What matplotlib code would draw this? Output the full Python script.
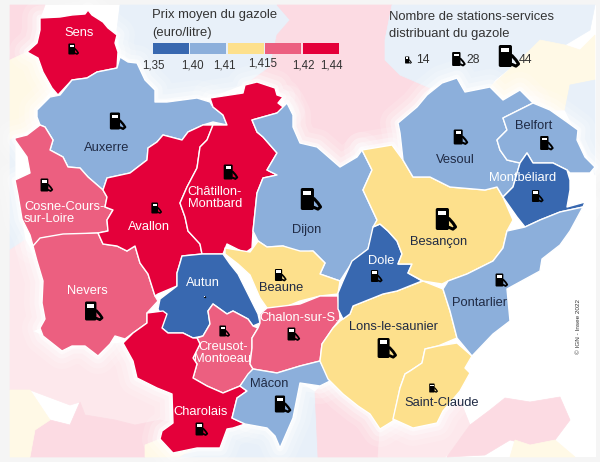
import matplotlib

matplotlib.use("Agg")
import matplotlib.pyplot as plt
from matplotlib.patches import FancyBboxPatch, Polygon, Rectangle

plt.rcParams["font.family"] = ["Liberation Sans", "DejaVu Sans"]

# price classes, low to high
BIN_COLORS = ["#3868b0", "#8cafdb", "#fde08c", "#ec5f80", "#e4003a"]
BIN_EDGES = ["1,35", "1,40", "1,41", "1,415", "1,42", "1,44"]
STATION_SIZES = [14, 28, 44]

# zone outlines in pixels
sens = [(40, 18), (60, 17), (72, 15), (85, 14), (88, 10), (92, 15), (103, 22), (108, 28), (117, 35), (115, 43),
        (118, 52), (117, 68), (97, 72), (87, 78), (72, 80), (58, 95), (52, 88), (43, 72), (38, 58), (27, 52),
        (37, 43), (40, 30)]
auxerre = [(37, 110), (50, 97), (60, 95), (72, 80), (87, 78), (97, 72), (117, 68), (120, 57), (128, 62), (137, 63),
           (145, 80), (155, 90), (155, 102), (167, 102), (197, 98), (210, 102), (213, 107), (223, 115), (227, 125),
           (213, 122), (203, 125), (188, 132), (182, 140), (163, 135), (157, 142), (148, 148), (147, 160), (130, 173),
           (107, 178), (103, 190), (88, 177), (80, 168), (68, 167), (63, 157), (50, 150), (53, 140), (45, 127),
           (40, 125), (37, 117)]
cosne = [(15, 138), (27, 135), (40, 125), (45, 127), (53, 140), (50, 150), (63, 157), (68, 167), (80, 168), (88, 177),
         (103, 190), (107, 197), (105, 207), (113, 210), (107, 220), (108, 231), (98, 233), (63, 235), (42, 238),
         (33, 246), (30, 235), (22, 219), (18, 195), (15, 180), (30, 173), (27, 157), (15, 140)]
nevers = [(33, 246), (40, 238), (63, 234), (98, 233), (103, 244), (117, 246), (127, 251), (135, 246), (140, 263),
          (148, 274), (155, 296), (158, 301), (147, 313), (147, 323), (133, 333), (125, 339), (115, 336), (110, 344),
          (98, 356), (85, 346), (72, 346), (62, 351), (43, 336), (40, 328), (45, 319), (42, 303), (43, 281), (37, 261)]
avallon = [(107, 178), (130, 173), (147, 160), (148, 148), (157, 142), (163, 135), (182, 140), (188, 132), (203, 125),
           (213, 125), (207, 140), (200, 147), (197, 168), (187, 187), (180, 203), (185, 217), (188, 231), (200, 244),
           (202, 254), (182, 256), (180, 263), (177, 273), (177, 286), (158, 294), (155, 296), (148, 274), (140, 263),
           (135, 246), (127, 251), (117, 246), (103, 244), (98, 233), (108, 231), (107, 220), (113, 210), (105, 207),
           (107, 197), (103, 190)]
chatillon = [(210, 98), (243, 93), (245, 85), (257, 82), (275, 88), (277, 95), (283, 97), (278, 103), (287, 110),
             (277, 113), (252, 120), (257, 132), (263, 137), (277, 153), (267, 170), (277, 175), (263, 178),
             (257, 193), (253, 231), (252, 248), (245, 253), (227, 244), (223, 254), (213, 254), (202, 254),
             (200, 244), (188, 231), (185, 217), (180, 203), (187, 187), (197, 168), (200, 147), (207, 140),
             (213, 125), (227, 125), (223, 115), (213, 107)]
dijon = [(287, 103), (293, 115), (293, 127), (300, 143), (317, 147), (340, 167), (357, 157), (362, 150), (372, 170),
         (363, 190), (377, 220), (373, 231), (368, 249), (353, 261), (340, 281), (320, 274), (325, 263), (313, 251),
         (300, 253), (283, 246), (267, 247), (258, 241), (253, 231), (257, 193), (263, 178), (277, 175), (267, 170),
         (277, 153), (263, 137), (257, 132), (252, 120), (277, 113)]
beaune = [(225, 248), (250, 252), (258, 241), (267, 247), (283, 246), (300, 251), (313, 251), (325, 263), (320, 274),
          (340, 281), (338, 294), (320, 296), (300, 301), (283, 308), (267, 308), (260, 298), (250, 275), (238, 264),
          (225, 254)]
autun = [(182, 256), (202, 254), (213, 254), (223, 254), (230, 264), (238, 274), (250, 298), (258, 314), (260, 323),
         (253, 326), (248, 319), (233, 311), (227, 314), (213, 304), (208, 311), (210, 324), (203, 336), (193, 338),
         (183, 333), (168, 333), (162, 328), (163, 319), (158, 309), (160, 299), (177, 286), (177, 273), (180, 263)]
creusot = [(213, 304), (227, 314), (233, 311), (248, 319), (253, 326), (258, 328), (252, 338), (252, 348), (250, 364),
           (253, 369), (245, 379), (240, 386), (223, 393), (207, 386), (193, 378), (197, 364), (193, 358), (200, 344),
           (197, 338), (203, 336), (210, 324), (208, 311)]
chalon = [(260, 314), (267, 308), (300, 304), (320, 296), (338, 296), (340, 319), (333, 328), (322, 344), (320, 361),
          (300, 366), (277, 373), (253, 369), (250, 364), (252, 348), (252, 338), (258, 328), (260, 323)]
charolais = [(147, 313), (163, 311), (167, 314), (162, 328), (168, 333), (183, 333), (193, 338), (197, 338), (200, 344),
             (193, 358), (197, 364), (193, 378), (207, 386), (223, 393), (240, 386), (247, 391), (237, 398), (232, 418),
             (245, 424), (233, 428), (227, 429), (220, 448), (197, 448), (173, 453), (160, 439), (162, 431), (173, 423),
             (172, 394), (157, 388), (137, 378), (133, 361), (123, 343), (133, 333), (147, 323)]
macon = [(253, 369), (277, 373), (300, 366), (320, 361), (330, 381), (320, 386), (300, 383), (293, 418), (280, 448),
         (275, 436), (267, 428), (245, 424), (232, 418), (237, 398), (247, 391), (240, 386), (248, 374)]
lons = [(340, 321), (350, 314), (353, 306), (383, 294), (397, 291), (423, 281), (443, 289), (450, 311), (457, 338),
        (438, 346), (425, 349), (422, 363), (410, 371), (405, 374), (400, 388), (393, 421), (380, 429), (370, 414),
        (358, 406), (343, 394), (328, 379), (320, 361), (322, 344), (333, 328)]
saint_claude = [(438, 346), (457, 343), (472, 356), (465, 368), (470, 373), (460, 391), (443, 411), (437, 423),
                (413, 428), (393, 419), (400, 388), (405, 374), (410, 371), (422, 363), (425, 349)]
dole = [(373, 227), (380, 224), (388, 231), (397, 241), (402, 254), (398, 264), (412, 264), (408, 273), (422, 281),
        (397, 291), (383, 294), (353, 306), (350, 314), (343, 319), (338, 309), (338, 293), (343, 281), (352, 261),
        (368, 249)]
besancon = [(362, 150), (392, 145), (403, 160), (413, 177), (430, 177), (450, 187), (485, 190), (497, 187), (503, 197),
            (513, 220), (507, 231), (503, 248), (493, 261), (467, 274), (448, 281), (442, 284), (423, 281), (408, 273),
            (412, 264), (398, 264), (402, 254), (397, 241), (388, 231), (380, 224), (373, 227), (377, 220), (363, 190),
            (372, 170)]
vesoul = [(398, 123), (417, 107), (427, 95), (442, 83), (457, 78), (465, 92), (490, 87), (503, 100), (520, 90),
          (533, 103), (513, 113), (503, 118), (507, 130), (497, 140), (500, 150), (507, 160), (520, 163), (513, 187),
          (503, 197), (497, 187), (485, 190), (450, 187), (430, 177), (413, 177), (403, 160), (400, 133)]
belfort = [(533, 103), (550, 110), (567, 122), (578, 130), (577, 140), (585, 157), (595, 167), (590, 173), (570, 173),
           (567, 170), (553, 163), (533, 163), (527, 153), (520, 163), (507, 160), (500, 150), (497, 140), (507, 130),
           (503, 118), (513, 113)]
montbeliard = [(527, 153), (533, 163), (553, 163), (567, 170), (570, 180), (570, 190), (567, 207), (585, 202),
               (583, 207), (560, 212), (540, 220), (525, 227), (517, 217), (503, 197), (513, 187), (520, 163)]
pontarlier = [(507, 231), (525, 227), (540, 220), (560, 212), (583, 207), (570, 231), (560, 245), (542, 259),
              (540, 271), (507, 289), (510, 321), (493, 334), (472, 356), (457, 338), (450, 311), (443, 289),
              (448, 281), (467, 274), (493, 261), (503, 248)]

zone_shapes = [sens, auxerre, cosne, nevers, avallon, chatillon, dijon, beaune, autun, creusot, chalon, charolais,
               macon, lons, saint_claude, dole, besancon, vesoul, belfort, montbeliard, pontarlier]
zone_bins = [4, 1, 3, 3, 4, 4, 1, 2, 0, 3, 3, 4, 1, 2, 2, 0, 2, 1, 1, 0, 1]
zone_stations = [22, 34, 26, 38, 22, 30, 44, 24, 4, 22, 26, 26, 34, 40, 18, 24, 44, 30, 28, 24, 26]
pump_x = [73, 117, 46, 93, 156, 230, 310, 280, 205, 224, 293, 201, 282, 386, 433, 376, 445, 460, 546, 537, 501]
pump_y = [49, 121, 185, 311, 208, 172, 199, 275, 297, 331, 334, 429, 404, 348, 388, 276, 219, 137, 143, 196, 280]

labels = ["Sens", "Auxerre", "Cosne-Cours-\nsur-Loire", "Nevers", "Avallon", "Châtillon-\nMontbard", "Dijon", "Beaune",
          "Autun", "Creusot-\nMontoeau", "Chalon-sur-S.", "Charolais", "Mâcon", "Lons-le-saunier", "Saint-Claude",
          "Dole", "Besançon", "Vesoul", "Belfort", "Montbéliard", "Pontarlier"]
label_x = [79, 107, 62, 87, 149, 215, 307, 281, 203, 223, 299, 201, 269, 393, 442, 381, 439, 455, 534, 523, 480]
label_y = [33, 148, 213, 291, 227, 198, 230, 288, 283, 353, 318, 412, 384, 327, 403, 261, 242, 160, 126, 178, 303]

# pale neighbouring zones behind the map
PINK = "#fcdbe3"
PALE_PINK = "#fde8ec"
PALE_BLUE = "#e8f0f9"
PALE_YELLOW = "#fff9e6"
backdrop = [
    (PINK, [(10, 5), (45, 5), (40, 18), (37, 43), (27, 52), (10, 60)]),
    (PALE_YELLOW, [(10, 60), (27, 52), (38, 58), (43, 72), (52, 88), (37, 110), (37, 117), (40, 125), (15, 138),
                   (10, 140)]),
    (PALE_BLUE, [(10, 140), (15, 138), (15, 180), (25, 240), (15, 300), (10, 310)]),
    (PALE_PINK, [(10, 250), (25, 240), (37, 261), (43, 281), (42, 303), (45, 319), (40, 328), (10, 340)]),
    (PALE_BLUE, [(120, 5), (280, 5), (290, 20), (277, 35), (270, 67), (247, 83), (210, 97), (155, 100), (145, 80),
                 (130, 60), (120, 55), (117, 30)]),
    (PINK, [(277, 5), (392, 5), (385, 40), (390, 60), (400, 75), (420, 80), (430, 88), (417, 107), (398, 123),
            (400, 133), (403, 160), (392, 145), (362, 150), (340, 167), (300, 143), (290, 115), (283, 97), (277, 88),
            (245, 85), (270, 67), (277, 35), (290, 20)]),
    (PALE_BLUE, [(392, 5), (595, 5), (590, 30), (565, 45), (540, 40), (520, 60), (495, 80), (490, 87), (465, 92),
                 (457, 78), (430, 88), (400, 75), (385, 60), (385, 40)]),
    (PALE_YELLOW, [(540, 40), (565, 45), (580, 50), (595, 35), (595, 80), (570, 85), (565, 110), (550, 110), (533, 103),
                   (520, 90), (503, 100), (490, 87), (520, 60)]),
    (PALE_BLUE, [(570, 85), (595, 80), (595, 175), (585, 150), (565, 110)]),
    (PALE_PINK, [(10, 340), (30, 330), (43, 336), (62, 351), (85, 346), (98, 356), (110, 344), (123, 343), (133, 361),
                 (137, 378), (157, 388), (172, 394), (173, 423), (160, 420), (135, 425), (115, 420), (85, 415),
                 (80, 402), (70, 405), (30, 390), (10, 390)]),
    (PINK, [(30, 457), (35, 430), (50, 420), (70, 425), (80, 402), (85, 415), (115, 420), (135, 425), (160, 420),
            (173, 423), (160, 439), (145, 445), (145, 457)]),
    (PALE_YELLOW, [(10, 390), (30, 390), (50, 420), (35, 430), (30, 457), (10, 457)]),
    (PALE_YELLOW, [(145, 445), (160, 439), (173, 453), (197, 448), (180, 457), (145, 457)]),
    (PALE_BLUE, [(180, 457), (197, 448), (220, 448), (227, 429), (245, 424), (267, 428), (280, 448), (293, 418),
                 (300, 383), (315, 392), (318, 457)]),
    (PINK, [(315, 392), (328, 379), (343, 394), (358, 406), (370, 414), (380, 429), (378, 457), (318, 457)]),
    (PALE_PINK, [(378, 457), (380, 429), (393, 421), (413, 428), (437, 423), (443, 411), (460, 400), (470, 425),
                 (455, 450), (445, 457)]),
    (PINK, [(490, 410), (505, 398), (530, 402), (560, 397), (570, 420), (555, 440), (530, 445), (510, 440), (485, 455),
            (447, 457), (470, 425)]),
    (PALE_YELLOW, [(510, 457), (515, 440), (530, 445), (555, 440), (575, 457)]),
]


def draw_pump(ax, x, y, count):
    # icon height follows the number of stations
    h = count * 0.5
    w = h * 0.6
    left = x - w * 0.7
    top = y - h / 2
    hose = max(h * 0.1, 0.5)
    ax.add_patch(FancyBboxPatch((left, top), w, h, boxstyle=f"round,pad=0,rounding_size={h * 0.08}",
                                fc="black", ec="none", zorder=6))
    ax.add_patch(Rectangle((left + w * 0.2, top + h * 0.12), w * 0.6, h * 0.2, fc="white", ec="none", zorder=7))
    ax.plot([left + w, left + w * 1.3, left + w * 1.5, left + w * 1.3, left + w],
            [y - h * 0.02, y + h * 0.18, y + h * 0.36, y + h * 0.46, y + h * 0.38],
            color="black", lw=hose, zorder=5, solid_capstyle="round")


fig = plt.figure(figsize=(6.0, 4.62), dpi=100, facecolor="#f5f5f5")
ax = fig.add_axes([0, 0, 1, 1])
ax.set_xlim(0, 600)
ax.set_ylim(462, 0)
ax.axis("off")

ax.add_patch(Rectangle((10, 5), 586, 452, fc="white", ec="none", zorder=0))
for color, shape in backdrop:
    ax.add_patch(Polygon(shape, closed=True, fc=color, ec=color, lw=0.5, zorder=1))

# soft white haze around the whole map
for width, alpha in [(26, 0.14), (18, 0.2), (11, 0.3), (5, 0.5)]:
    for shape in zone_shapes:
        ax.add_patch(Polygon(shape, closed=True, fc="none", ec="white", lw=width, alpha=alpha, zorder=2,
                             joinstyle="round"))

for shape, b in zip(zone_shapes, zone_bins):
    ax.add_patch(Polygon(shape, closed=True, fc=BIN_COLORS[b], ec="white", lw=1.0, zorder=3, joinstyle="round"))

for x, y, count in zip(pump_x, pump_y, zone_stations):
    draw_pump(ax, x, y, count)

for text, x, y, b in zip(labels, label_x, label_y, zone_bins):
    color = "#1f2a44" if b in (1, 2) else "white"
    ha = "left" if text.startswith("Cosne") else "center"
    xpos = 24 if ha == "left" else x
    ax.text(xpos, y, text, color=color, fontsize=9.3, ha=ha, va="center", linespacing=1.05, zorder=8)

# price legend
ax.text(152, 15, "Prix moyen du gazole", fontsize=9.4, color="#333333", va="center", zorder=8)
ax.text(152, 33, "(euro/litre)", fontsize=9.4, color="#333333", va="center", zorder=8)
for i, color in enumerate(BIN_COLORS):
    ax.add_patch(Rectangle((153 + i * 37.4, 43), 36, 11, fc=color, ec="none", zorder=8))
edge_x = [153, 192, 224, 263, 303, 331]
edge_y = [65, 65, 65, 63, 65, 65]
for text, x, y in zip(BIN_EDGES, edge_x, edge_y):
    ax.text(x, y, text, fontsize=8.3, color="#333333", ha="center", va="center", zorder=8)

# station legend
ax.text(389, 17, "Nombre de stations-services", fontsize=9.4, color="#333333", va="center", zorder=8)
ax.text(389, 34, "distribuant du gazole", fontsize=9.4, color="#333333", va="center", zorder=8)
legend_x = [408, 458, 508]
legend_y = [60, 59, 56]
text_x = [416, 466, 519]
for count, x, y, tx in zip(STATION_SIZES, legend_x, legend_y, text_x):
    draw_pump(ax, x, y, count)
    ax.text(tx, 60, str(count), fontsize=8.8, color="#333333", va="center", zorder=8)

ax.text(579, 327, "© IGN - Insee 2022", fontsize=4.6, color="#333333", rotation=90, ha="center", va="center", zorder=8)

fig.savefig("out.png", dpi=100, facecolor=fig.get_facecolor())
